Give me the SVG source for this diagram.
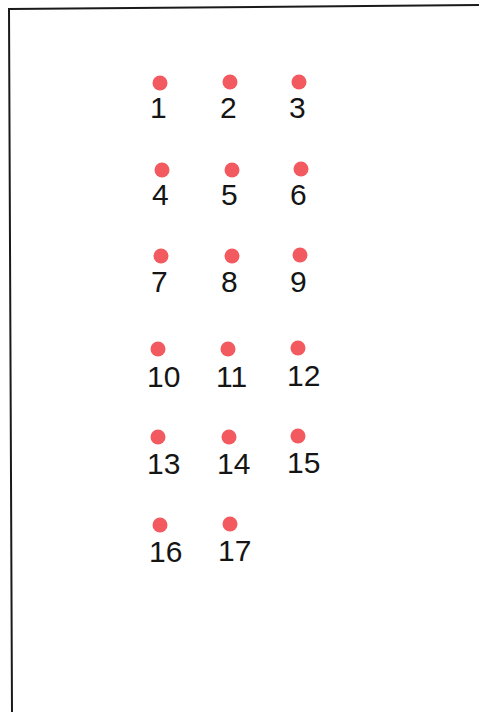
<svg xmlns="http://www.w3.org/2000/svg" width="479" height="712" viewBox="0 0 479 712">
<style>
.dot{fill:#f25a60}
.lbl{font-family:"Liberation Sans",Arial,sans-serif;font-size:30px;fill:#151515}
.frame{fill:none;stroke:#1a1a1a;stroke-width:2}
</style>
<rect width="479" height="712" fill="#ffffff"/>
<polyline class="frame" points="479,5 9,9 12,712"/>
<g id="n1"><circle class="dot" cx="160" cy="83" r="7.5"/><text class="lbl" x="150" y="118">1</text></g>
<g id="n2"><circle class="dot" cx="230" cy="82" r="7.5"/><text class="lbl" x="220" y="118">2</text></g>
<g id="n3"><circle class="dot" cx="299" cy="82" r="7.5"/><text class="lbl" x="289" y="118">3</text></g>
<g id="n4"><circle class="dot" cx="162" cy="170" r="7.5"/><text class="lbl" x="152" y="205">4</text></g>
<g id="n5"><circle class="dot" cx="232" cy="170" r="7.5"/><text class="lbl" x="221" y="205">5</text></g>
<g id="n6"><circle class="dot" cx="301" cy="169" r="7.5"/><text class="lbl" x="290" y="205">6</text></g>
<g id="n7"><circle class="dot" cx="161" cy="256" r="7.5"/><text class="lbl" x="151" y="292">7</text></g>
<g id="n8"><circle class="dot" cx="232" cy="256" r="7.5"/><text class="lbl" x="221" y="292">8</text></g>
<g id="n9"><circle class="dot" cx="300" cy="255" r="7.5"/><text class="lbl" x="290" y="292">9</text></g>
<g id="n10"><circle class="dot" cx="158" cy="349" r="7.5"/><text class="lbl" x="147" y="387">10</text></g>
<g id="n11"><circle class="dot" cx="228" cy="349" r="7.5"/><text class="lbl" x="216" y="387">11</text></g>
<g id="n12"><circle class="dot" cx="298" cy="348" r="7.5"/><text class="lbl" x="287" y="386">12</text></g>
<g id="n13"><circle class="dot" cx="158" cy="437" r="7.5"/><text class="lbl" x="147" y="474">13</text></g>
<g id="n14"><circle class="dot" cx="229" cy="437" r="7.5"/><text class="lbl" x="217" y="474">14</text></g>
<g id="n15"><circle class="dot" cx="298" cy="436" r="7.5"/><text class="lbl" x="287" y="473">15</text></g>
<g id="n16"><circle class="dot" cx="160" cy="525" r="7.5"/><text class="lbl" x="149" y="562">16</text></g>
<g id="n17"><circle class="dot" cx="230" cy="524" r="7.5"/><text class="lbl" x="218" y="561">17</text></g>
<g id="connectors"></g>
</svg>
